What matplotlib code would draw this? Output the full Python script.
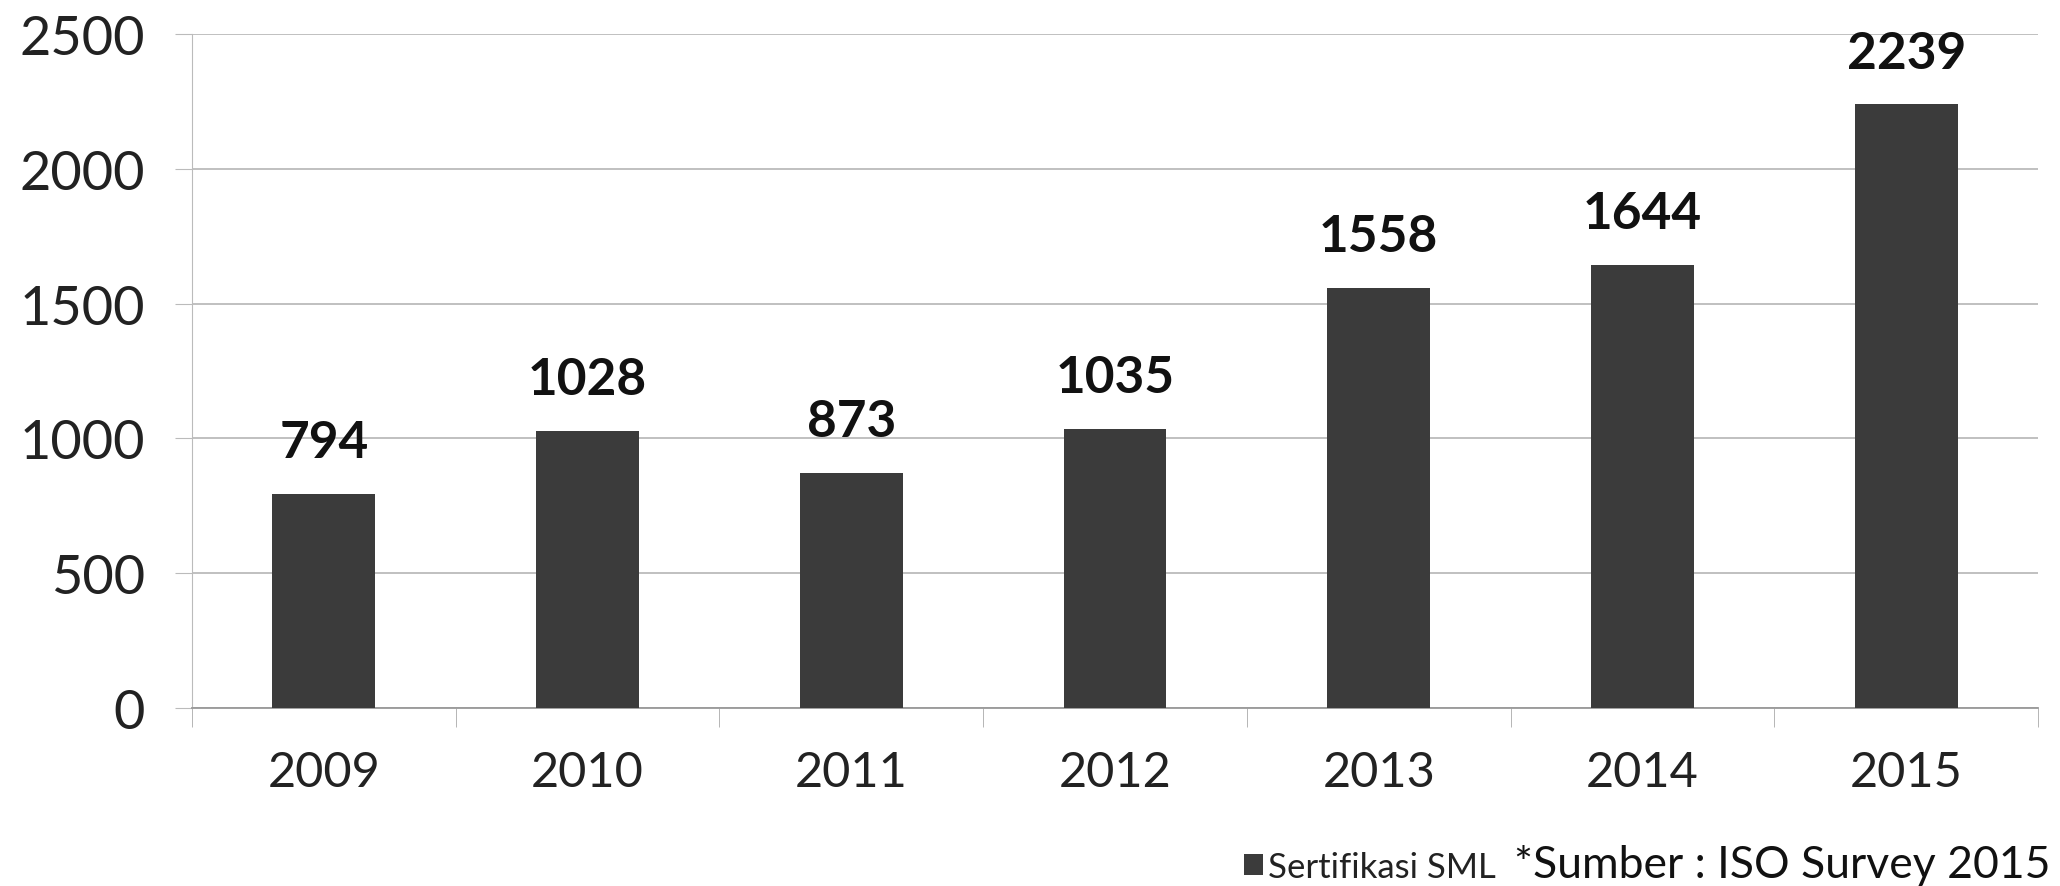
import matplotlib.pyplot as plt
import numpy as np

# data
years = ['2009', '2010', '2011', '2012', '2013', '2014', '2015']
sertifikasi = [794, 1028, 873, 1035, 1558, 1644, 2239]
y_ticks = [0, 500, 1000, 1500, 2000, 2500]

plt.rcParams['font.family'] = ['Lato', 'DejaVu Sans']

fig = plt.figure(figsize=(20.6, 8.87), dpi=100)
ax = fig.add_axes([192/2060, 1 - 709/887, (2038 - 192)/2060, (709 - 35)/887])

x = np.arange(len(years))
bars = ax.bar(x, sertifikasi, width=0.39, color='#3b3b3b', label='Sertifikasi SML', zorder=3)
ax.bar_label(bars, padding=20, fontsize=37, fontweight='bold', color='#111111')

ax.set_xlim(-0.5, len(years) - 0.5)
ax.set_ylim(0, 2500)
ax.set_yticks(y_ticks)
ax.tick_params(axis='y', labelsize=39, length=12, color='#bbbbbb', pad=22, labelcolor='#222222')
ax.grid(axis='y', color='#bbbbbb', linewidth=1.3, zorder=0)

# category ticks sit between the bars, labels under the bars
ax.set_xticks(x)
ax.set_xticklabels(years)
ax.set_xticks(np.arange(len(years) + 1) - 0.5, minor=True)
ax.tick_params(axis='x', which='major', length=0, labelsize=35, pad=30, labelcolor='#222222')
ax.tick_params(axis='x', which='minor', length=14, color='#aaaaaa')

for s in ['top', 'right']:
    ax.spines[s].set_visible(False)
ax.spines['left'].set_color('#bbbbbb')
ax.spines['bottom'].set_color('#999999')
ax.spines['bottom'].set_linewidth(1.3)

ax.legend(loc='center left', bbox_to_anchor=(1244/2060, 1 - 868/887), bbox_transform=fig.transFigure,
          frameon=False, fontsize=25, handlelength=0.55, handleheight=0.55, handletextpad=0.15,
          borderpad=0, borderaxespad=0, labelcolor='#222222')
fig.text(2050/2060, 1 - 866/887, '*Sumber : ISO Survey 2015', fontsize=32,
         va='center', ha='right', color='#111111')

fig.savefig('out.png', dpi=100, facecolor='white')
